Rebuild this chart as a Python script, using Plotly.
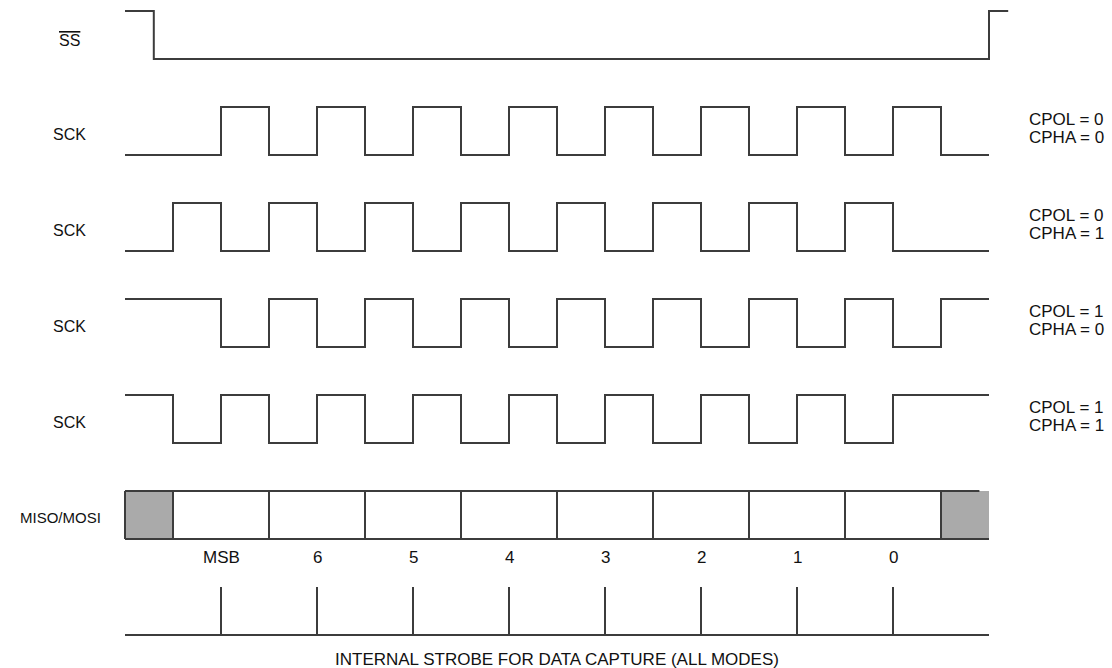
import plotly.graph_objects as go

# ---- data (time in half clock periods, levels 0/1) ----
ss_times = [0, 0.6, 18, 18.4]
ss_levels = [1, 0, 1, 1]

cpol_labels = ["CPOL = 0", "CPOL = 0", "CPOL = 1", "CPOL = 1"]
cpha_labels = ["CPHA = 0", "CPHA = 1", "CPHA = 0", "CPHA = 1"]
sck_levels = [
    [0, 0, 1, 0, 1, 0, 1, 0, 1, 0, 1, 0, 1, 0, 1, 0, 1, 0],
    [0, 1, 0, 1, 0, 1, 0, 1, 0, 1, 0, 1, 0, 1, 0, 1, 0, 0],
    [1, 1, 0, 1, 0, 1, 0, 1, 0, 1, 0, 1, 0, 1, 0, 1, 0, 1],
    [1, 0, 1, 0, 1, 0, 1, 0, 1, 0, 1, 0, 1, 0, 1, 0, 1, 1],
]
row_labels = ["SS", "SCK", "SCK", "SCK", "SCK", "MISO/MOSI"]

data_dividers = [1, 3, 5, 7, 9, 11, 13, 15, 17]
gray_blocks = [(0, 1), (17, 18)]
data_end = 18
data_top_end = 17.8
bit_centers = [2, 4, 6, 8, 10, 12, 14, 16]
bit_labels = ["MSB", "6", "5", "4", "3", "2", "1", "0"]
strobe_caption = "INTERNAL STROBE FOR DATA CAPTURE (ALL MODES)"

LINE = dict(color="#3c3c3c", width=2)
FAM = "Liberation Sans, Arial, sans-serif"
def font(sz):
    return dict(family=FAM, size=sz, color="#111111")

fig = go.Figure()

def base(k):
    return -2 * k

# SS
fig.add_trace(go.Scatter(x=ss_times, y=[base(0) + v for v in ss_levels],
                         mode="lines", line=dict(shape="hv", **LINE)))

# SCK rows
for i, lev in enumerate(sck_levels):
    k = i + 1
    xs = list(range(len(lev) + 1))
    ys = [base(k) + v for v in lev] + [base(k) + lev[-1]]
    fig.add_trace(go.Scatter(x=xs, y=ys, mode="lines",
                             line=dict(shape="hv", **LINE)))

# MISO/MOSI row (k=5)
k = 5
for a, b in gray_blocks:
    fig.add_trace(go.Scatter(x=[a, b, b, a, a],
                             y=[base(k), base(k), base(k) + 1, base(k) + 1, base(k)],
                             mode="lines", fill="toself", fillcolor="#aaaaaa",
                             line=dict(width=0, color="#aaaaaa")))
fig.add_trace(go.Scatter(x=[0, data_top_end], y=[base(k) + 1] * 2, mode="lines", line=LINE))
fig.add_trace(go.Scatter(x=[0, data_end], y=[base(k)] * 2, mode="lines", line=LINE))
dx, dy = [], []
for d in [0] + data_dividers:
    dx += [d, d, None]
    dy += [base(k), base(k) + 1, None]
fig.add_trace(go.Scatter(x=dx, y=dy, mode="lines", line=LINE))

# strobe row (k=6)
k = 6
sx, sy = [0, data_end, None], [base(k), base(k), None]
for c in bit_centers:
    sx += [c, c, None]
    sy += [base(k), base(k) + 1, None]
fig.add_trace(go.Scatter(x=sx, y=sy, mode="lines", line=LINE))

# labels
ann = []
for r, lab in enumerate(row_labels):
    if lab == "SS":
        ann.append(dict(x=-1.15, y=base(r) + 0.38,
                        text='<span style="text-decoration:overline">SS</span>',
                        showarrow=False, xanchor="center", yanchor="middle", font=font(16)))
    elif lab == "MISO/MOSI":
        ann.append(dict(x=-0.45, y=base(r) + 0.44, text=lab, showarrow=False,
                        xanchor="right", yanchor="middle", font=font(15)))
    else:
        ann.append(dict(x=-1.15, y=base(r) + 0.42, text=lab, showarrow=False,
                        xanchor="center", yanchor="middle", font=font(16)))
for i in range(4):
    ann.append(dict(x=18.79, y=base(i + 1) + 0.73, text=cpol_labels[i], showarrow=False,
                    xanchor="left", yanchor="middle", font=font(17)))
    ann.append(dict(x=18.79, y=base(i + 1) + 0.37, text=cpha_labels[i], showarrow=False,
                    xanchor="left", yanchor="middle", font=font(17)))
for c, lab in zip(bit_centers, bit_labels):
    ann.append(dict(x=c, y=base(5) - 0.375, text=lab, showarrow=False,
                    xanchor="center", yanchor="middle", font=font(17)))
ann.append(dict(x=9, y=base(6) - 0.5, text=strobe_caption, showarrow=False,
                xanchor="center", yanchor="middle", font=font(17)))

W, H = 1112, 668
U = 48.0
x0 = -125 / U
y1 = 59 / U
fig.update_layout(
    width=W, height=H, margin=dict(l=0, r=0, t=0, b=0),
    paper_bgcolor="white", plot_bgcolor="white", showlegend=False,
    hovermode=False, annotations=ann,
    xaxis=dict(range=[x0, x0 + W / U], visible=False, fixedrange=True),
    yaxis=dict(range=[y1 - H / U, y1], visible=False, fixedrange=True),
)
fig.write_html("out.html", config={"displayModeBar": False},
               post_script="document.body.style.margin='0';document.body.style.overflow='hidden';")
